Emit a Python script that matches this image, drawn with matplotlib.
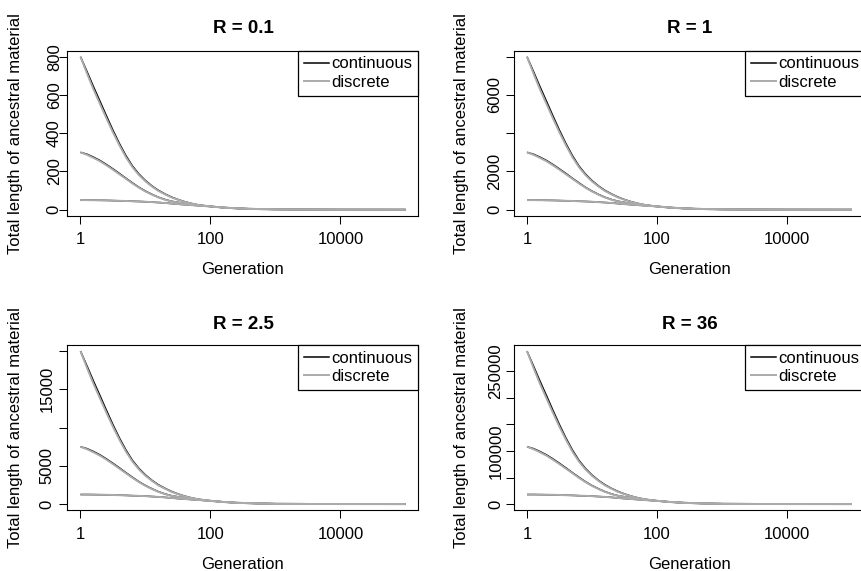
import matplotlib
matplotlib.use('Agg')
import matplotlib.pyplot as plt
from matplotlib.lines import Line2D
from matplotlib.ticker import NullLocator

plt.rcParams['font.family'] = ['Liberation Sans', 'DejaVu Sans']

# ---------------- data ----------------
generation = [1, 1.26, 1.58, 2, 2.51, 3.16, 3.98, 5.01, 6.31, 7.94, 10,
              12.6, 15.8, 20, 25.1, 31.6, 39.8, 50.1, 63.1, 79.4, 100,
              158, 251, 398, 631, 1000, 3162, 10000, 100000]

titles = ['R = 0.1', 'R = 1', 'R = 2.5', 'R = 36']

# R = 0.1
r01_cont_top = [800, 722, 644, 566, 490, 415, 345, 282, 228, 186, 152, 124, 101, 82, 66,
                53, 42, 33, 26, 21, 17, 11, 7, 4.5, 2.8, 1.7, 0.6, 0.2, 0.02]
r01_disc_top = [800, 712, 630, 552, 477, 404, 336, 274, 222, 181, 148, 121, 98, 80, 64,
                52, 41, 33, 26, 21, 17, 11, 7, 4.5, 2.8, 1.7, 0.6, 0.2, 0.02]
r01_cont_mid = [300, 290, 275, 257, 236, 213, 189, 164, 140, 117, 97, 80, 65, 53, 44,
                38, 33, 28.5, 24, 20.5, 17, 11, 7, 4.5, 2.8, 1.7, 0.6, 0.2, 0.02]
r01_disc_mid = [300, 287, 271, 253, 232, 209, 185, 161, 137, 115, 95, 78.5, 64, 52, 43.5,
                37.5, 33, 28.5, 24, 20.5, 17, 11, 7, 4.5, 2.8, 1.7, 0.6, 0.2, 0.02]
r01_low = [50, 50, 49.5, 49, 48.5, 47.5, 46.5, 45.5, 44, 43, 41.5, 39.5, 37.5, 35, 32,
           29, 26.5, 24, 21.5, 19, 17, 11, 7, 4.5, 2.8, 1.7, 0.6, 0.2, 0.02]

# R = 1
r1_cont_top = [8000, 7220, 6440, 5660, 4900, 4150, 3450, 2820, 2280, 1860, 1520, 1240, 1010, 820, 660,
               530, 420, 330, 260, 210, 170, 110, 70, 45, 28, 17, 6, 2, 0.2]
r1_disc_top = [8000, 7120, 6300, 5520, 4770, 4040, 3360, 2740, 2220, 1810, 1480, 1210, 980, 800, 640,
               520, 410, 330, 260, 210, 170, 110, 70, 45, 28, 17, 6, 2, 0.2]
r1_cont_mid = [3000, 2900, 2750, 2570, 2360, 2130, 1890, 1640, 1400, 1170, 970, 800, 650, 530, 440,
               380, 330, 285, 240, 205, 170, 110, 70, 45, 28, 17, 6, 2, 0.2]
r1_disc_mid = [3000, 2870, 2710, 2530, 2320, 2090, 1850, 1610, 1370, 1150, 950, 785, 640, 520, 435,
               375, 330, 285, 240, 205, 170, 110, 70, 45, 28, 17, 6, 2, 0.2]
r1_low = [500, 500, 495, 490, 485, 475, 465, 455, 440, 430, 415, 395, 375, 350, 320,
          290, 265, 240, 215, 190, 170, 110, 70, 45, 28, 17, 6, 2, 0.2]

# R = 2.5
r25_cont_top = [20000, 18050, 16100, 14150, 12250, 10375, 8625, 7050, 5700, 4650, 3800, 3100, 2525, 2050, 1650,
                1325, 1050, 825, 650, 525, 425, 275, 175, 112, 70, 42, 15, 5, 0.5]
r25_disc_top = [20000, 17800, 15750, 13800, 11925, 10100, 8400, 6850, 5550, 4525, 3700, 3025, 2450, 2000, 1600,
                1300, 1025, 825, 650, 525, 425, 275, 175, 112, 70, 42, 15, 5, 0.5]
r25_cont_mid = [7500, 7250, 6875, 6425, 5900, 5325, 4725, 4100, 3500, 2925, 2425, 2000, 1625, 1325, 1100,
                950, 825, 712, 600, 512, 425, 275, 175, 112, 70, 42, 15, 5, 0.5]
r25_disc_mid = [7500, 7175, 6775, 6325, 5800, 5225, 4625, 4025, 3425, 2875, 2375, 1962, 1600, 1300, 1088,
                938, 825, 712, 600, 512, 425, 275, 175, 112, 70, 42, 15, 5, 0.5]
r25_low = [1250, 1250, 1238, 1225, 1212, 1188, 1162, 1138, 1100, 1075, 1038, 988, 938, 875, 800,
           725, 662, 600, 538, 475, 425, 275, 175, 112, 70, 42, 15, 5, 0.5]

# R = 36
r36_cont_top = [288000, 259900, 231800, 203800, 176400, 149400, 124200, 101500, 82100, 67000, 54700,
                44600, 36400, 29500, 23800, 19100, 15100, 11900, 9400, 7600, 6100,
                3960, 2520, 1620, 1010, 610, 216, 72, 7]
r36_disc_top = [288000, 256300, 226800, 198700, 171700, 145400, 121000, 98600, 79900, 65200, 53300,
                43600, 35300, 28800, 23000, 18700, 14800, 11900, 9400, 7600, 6100,
                3960, 2520, 1620, 1010, 610, 216, 72, 7]
r36_cont_mid = [108000, 104400, 99000, 92500, 85000, 76700, 68000, 59000, 50400, 42100, 34900,
                28800, 23400, 19100, 15800, 13700, 11900, 10300, 8600, 7400, 6100,
                3960, 2520, 1620, 1010, 610, 216, 72, 7]
r36_disc_mid = [108000, 103300, 97600, 91100, 83500, 75200, 66600, 58000, 49300, 41400, 34200,
                28300, 23000, 18700, 15700, 13500, 11900, 10300, 8600, 7400, 6100,
                3960, 2520, 1620, 1010, 610, 216, 72, 7]
r36_low = [18000, 18000, 17800, 17600, 17500, 17100, 16700, 16400, 15800, 15500, 14900,
           14200, 13500, 12600, 11500, 10400, 9500, 8600, 7700, 6800, 6100,
           3960, 2520, 1620, 1010, 610, 216, 72, 7]

continuous = [
    [r01_cont_top, r01_cont_mid, r01_low],
    [r1_cont_top, r1_cont_mid, r1_low],
    [r25_cont_top, r25_cont_mid, r25_low],
    [r36_cont_top, r36_cont_mid, r36_low],
]
discrete = [
    [r01_disc_top, r01_disc_mid, r01_low],
    [r1_disc_top, r1_disc_mid, r1_low],
    [r25_disc_top, r25_disc_mid, r25_low],
    [r36_disc_top, r36_disc_mid, r36_low],
]

x_ticks = [1, 100, 10000]
x_tick_labels = ['1', '100', '10000']

y_ticks = [
    [0, 200, 400, 600, 800],
    [0, 2000, 4000, 6000, 8000],
    [0, 5000, 10000, 15000, 20000],
    [0, 50000, 100000, 150000, 200000, 250000],
]
y_tick_labels = [
    ['0', '200', '400', '600', '800'],
    ['0', '2000', '', '6000', ''],
    ['0', '5000', '', '15000', ''],
    ['0', '', '100000', '', '', '250000'],
]

legend_labels = ['continuous', 'discrete']

# ---------------- layout ----------------
W, H = 862, 571
fig = plt.figure(figsize=(W / 100, H / 100), dpi=100)

GRAY = '#ababab'
col_left = [67.5, 514.0]
ax_w = 351.0
row_top = [50.6, 345.0]
ax_h = 165.2
title_base = [33.0, 329.0]
ytick_pad = [-1.4, 3.2, 4.0, 2.2]

for i in range(4):
    r, c = divmod(i, 2)
    left, top = col_left[c], row_top[r]
    ax = fig.add_axes([left / W, 1 - (top + ax_h) / H, ax_w / W, ax_h / H])
    ax.set_xscale('log')
    ax.set_xlim(10 ** -0.2, 10 ** 5.2)
    ymax = max(max(s) for s in continuous[i] + discrete[i])
    ax.set_ylim(-0.04 * ymax, 1.04 * ymax)

    for s in continuous[i]:
        ax.plot(generation, s, color='black', lw=1.1, solid_capstyle='butt')
    for s in discrete[i]:
        ax.plot(generation, s, color=GRAY, lw=1.4, solid_capstyle='butt')

    ax.set_xticks(x_ticks)
    ax.set_xticklabels(x_tick_labels)
    ax.xaxis.set_minor_locator(NullLocator())
    ax.set_yticks(y_ticks[i])
    ax.set_yticklabels(y_tick_labels[i], rotation=90, va='center')
    ax.tick_params(axis='both', direction='out', length=5.5, width=0.75,
                   labelsize=12, color='black')
    ax.tick_params(axis='x', pad=6.5)
    ax.tick_params(axis='y', pad=ytick_pad[i])
    for sp in ax.spines.values():
        sp.set_linewidth(0.8)
        sp.set_color('black')

    handles = [Line2D([], [], color='black', lw=1.1),
               Line2D([], [], color=GRAY, lw=1.4)]
    leg = ax.legend(handles, legend_labels, loc='upper right', borderaxespad=0,
                    fancybox=False, edgecolor='black', framealpha=1, fontsize=12,
                    handlelength=1.5, handletextpad=0.15, borderpad=0.35,
                    labelspacing=0.2)
    leg.get_frame().set_linewidth(0.9)

    cx = left + ax_w / 2
    cy = top + ax_h / 2
    fig.text(cx / W, 1 - title_base[r] / H, titles[i], ha='center', va='baseline',
             fontsize=13.5, fontweight='bold')
    fig.text(cx / W, 1 - (top + ax_h + 58.5) / H, 'Generation', ha='center',
             va='baseline', fontsize=12)
    fig.text((left - 52) / W, 1 - cy / H, 'Total length of ancestral material',
             ha='center', va='center', rotation=90, fontsize=12)

fig.savefig('out.png', dpi=100)
